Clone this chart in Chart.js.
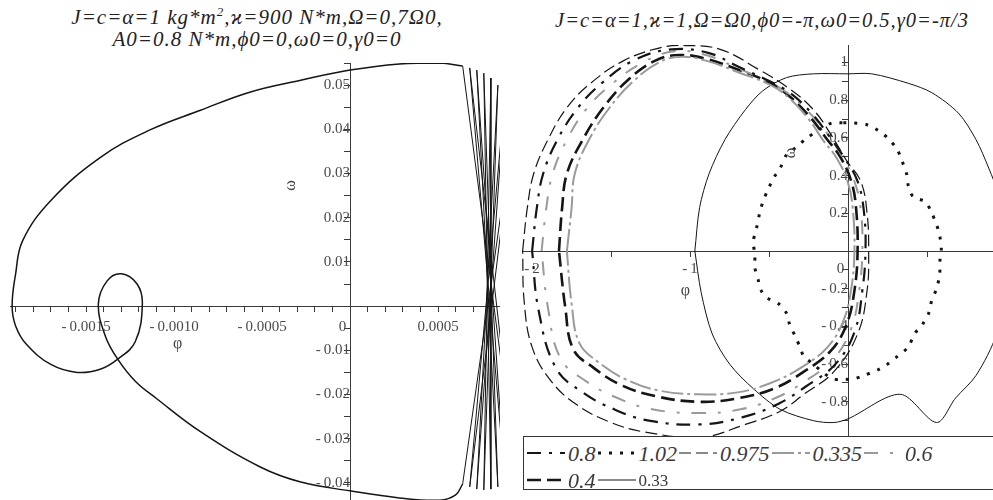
<!DOCTYPE html>
<html>
<head>
<meta charset="utf-8">
<script src="https://cdn.jsdelivr.net/npm/chart.js@4"></script>
<style>
  html, body { margin: 0; padding: 0; background: #fff; }
  body { width: 993px; height: 500px; position: relative; overflow: hidden; font-family: 'Liberation Serif', 'Times New Roman', serif; }
  canvas { position: absolute; top: 0; }
  #leftPlot { left: 0; }
  #rightPlot { left: 500px; }
  .title { position: absolute; font-style: italic; line-height: 22px; color: #222; white-space: nowrap; text-align: center; transform: translateX(-50%); letter-spacing: 1px; }
  .title sup { font-size: 13px; line-height: 0; }
  #legend { position: absolute; left: 523px; top: 436px; width: 520px; height: 54px; border: 1px solid #333; background: #fff; padding: 2px 0 0 3px; box-sizing: border-box; line-height: 25px; white-space: nowrap; }
  #legend .item { display: inline-block; margin-right: 2px; }
  #legend svg { vertical-align: middle; }
  #legend .lab { font-style: italic; font-size: 22px; color: #3a3a3a; margin-left: 3px; vertical-align: middle; }
  #legend .lab.plain { font-style: normal; font-size: 17px; }
</style>
</head>
<body>
<div class="title" style="left:257px; top:6px; font-size:21px;">J=c=α=1 kg*m<sup>2</sup>,ϰ=900 N*m,Ω=0,7Ω0,<br>A0=0.8 N*m,ϕ0=0,ω0=0,γ0=0</div>
<div class="title" style="left:762px; top:9px; font-size:20.5px;">J=c=α=1,ϰ=1,Ω=Ω0,ϕ0=-π,ω0=0.5,γ0=-π/3</div>
<canvas id="leftPlot" width="500" height="515"></canvas>
<canvas id="rightPlot" width="499" height="500"></canvas>
<div id="legend"></div>
<script>
const lineBlack = '#151515';
const lineGray = '#9a9a9a';

// ---- left portrait: phi vs omega, forced case ----
// smooth part of the trajectory
const leftTrack = [
  [0.00064, 0.0543], [0.00051, 0.0550], [0.00028, 0.0548], [0, 0.0534],
  [-0.00028, 0.0511], [-0.00057, 0.0484], [-0.00085, 0.0443], [-0.00114, 0.0398],
  [-0.00142, 0.0336], [-0.00170, 0.0239], [-0.00186, 0.0148], [-0.00190, 0.0073],
  [-0.00192, 0], [-0.00190, -0.0045], [-0.00184, -0.0086], [-0.00170, -0.0132],
  [-0.00155, -0.0150], [-0.00142, -0.0143], [-0.00132, -0.0120], [-0.00122, -0.0080],
  [-0.00118, 0.0005], [-0.00121, 0.0050], [-0.00130, 0.0073], [-0.00138, 0.0057],
  [-0.00143, 0.0005], [-0.00139, -0.0068], [-0.00132, -0.0120], [-0.00122, -0.0170],
  [-0.00110, -0.0209], [-0.00085, -0.0284], [-0.00051, -0.0364], [-0.00028, -0.0398],
  [0, -0.0418], [0.00028, -0.0434], [0.00051, -0.0439], [0.00060, -0.0427], [0.00064, -0.0402]
];
// fast oscillation near phi = 0.0008 (coarse sampling -> straight strokes)
const leftFan = [
  [0.00064, -0.0402], [0.00094, 0.0443], [0.00068, -0.0409], [0.00088, 0.0477],
  [0.00072, -0.0414], [0.00084, 0.0500], [0.00076, -0.0416], [0.00080, 0.0516],
  [0.00080, -0.0414], [0.00076, 0.0527], [0.00084, -0.0409], [0.00072, 0.0534],
  [0.00088, -0.0398], [0.00068, 0.0539], [0.00094, -0.0375], [0.00064, 0.0543]
];

// ---- right portrait: one orbit per parameter value ----
const legendLabels = ['0.8', '1.02', '0.975', '0.335', '0.6', '0.4', '0.33'];
const orbit08 = [
  [-2.00, 0], [-1.97, 0.23], [-1.93, 0.41], [-1.84, 0.59], [-1.71, 0.76], [-1.56, 0.89],
  [-1.36, 1.01], [-1.12, 1.07], [-0.88, 1.05], [-0.70, 0.98], [-0.52, 0.91], [-0.37, 0.84],
  [-0.23, 0.73], [-0.12, 0.61], [-0.02, 0.49], [0.06, 0.37], [0.10, 0.21], [0.11, 0],
  [0.09, -0.21], [0.04, -0.43], [-0.08, -0.60], [-0.27, -0.72], [-0.44, -0.81], [-0.66, -0.88],
  [-0.94, -0.92], [-1.26, -0.90], [-1.48, -0.84], [-1.68, -0.75], [-1.85, -0.62], [-1.96, -0.31],
  [-2.00, 0]
];
const orbit102 = [
  [-0.03, 0.68], [0.03, 0.68], [0.12, 0.67], [0.19, 0.64], [0.25, 0.60], [0.31, 0.54],
  [0.34, 0.48], [0.37, 0.41], [0.38, 0.35], [0.41, 0.29], [0.49, 0.26], [0.53, 0.20],
  [0.56, 0.14], [0.58, 0.08], [0.59, 0.01], [0.58, -0.06], [0.58, -0.12], [0.56, -0.20],
  [0.53, -0.26], [0.51, -0.33], [0.47, -0.39], [0.42, -0.44], [0.38, -0.51], [0.31, -0.56],
  [0.25, -0.60], [0.19, -0.63], [0.10, -0.66], [0.03, -0.68], [-0.04, -0.68], [-0.09, -0.68],
  [-0.15, -0.65], [-0.22, -0.60], [-0.28, -0.56], [-0.30, -0.52], [-0.33, -0.46], [-0.37, -0.39],
  [-0.39, -0.33], [-0.44, -0.28], [-0.51, -0.25], [-0.55, -0.21], [-0.57, -0.15], [-0.59, -0.09],
  [-0.59, -0.02], [-0.60, 0.05], [-0.58, 0.12], [-0.56, 0.20], [-0.54, 0.26], [-0.51, 0.32],
  [-0.47, 0.39], [-0.43, 0.44], [-0.39, 0.51], [-0.33, 0.55], [-0.26, 0.60], [-0.17, 0.65],
  [-0.10, 0.68], [-0.03, 0.68]
];
const orbit0975 = [
  [-2.06, 0], [-2.03, 0.23], [-1.99, 0.41], [-1.90, 0.59], [-1.78, 0.76], [-1.63, 0.89],
  [-1.42, 1.01], [-1.18, 1.08], [-1.03, 1.09], [-0.81, 1.07], [-0.56, 0.96], [-0.37, 0.86],
  [-0.22, 0.75], [-0.11, 0.62], [-0.01, 0.48], [0.08, 0.37], [0.12, 0.20], [0.13, 0],
  [0.12, -0.21], [0.06, -0.44], [-0.09, -0.64], [-0.28, -0.76], [-0.43, -0.85], [-0.65, -0.92],
  [-0.94, -0.99], [-1.29, -0.96], [-1.50, -0.91], [-1.71, -0.82], [-1.88, -0.69], [-2.00, -0.51],
  [-2.05, -0.27], [-2.06, 0]
];
const orbit0335 = [
  [-1.78, 0], [-1.75, 0.23], [-1.73, 0.41], [-1.64, 0.59], [-1.51, 0.76], [-1.36, 0.90],
  [-1.20, 1.00], [-1.06, 1.03], [-0.90, 1.01], [-0.70, 0.95], [-0.49, 0.88], [-0.37, 0.81],
  [-0.25, 0.70], [-0.16, 0.59], [-0.07, 0.49], [0.00, 0.36], [0.03, 0.22], [0.04, 0],
  [0.02, -0.20], [-0.03, -0.37], [-0.13, -0.51], [-0.30, -0.62], [-0.49, -0.70], [-0.70, -0.75],
  [-0.94, -0.76], [-1.20, -0.74], [-1.41, -0.68], [-1.58, -0.59], [-1.70, -0.49], [-1.75, -0.28],
  [-1.78, 0]
];
const orbit06 = [
  [-1.94, 0], [-1.91, 0.23], [-1.87, 0.41], [-1.78, 0.59], [-1.65, 0.76], [-1.49, 0.89],
  [-1.30, 1.00], [-1.10, 1.06], [-0.90, 1.04], [-0.70, 0.97], [-0.51, 0.90], [-0.37, 0.83],
  [-0.23, 0.72], [-0.12, 0.61], [-0.03, 0.49], [0.04, 0.37], [0.08, 0.22], [0.09, 0],
  [0.07, -0.21], [0.02, -0.41], [-0.09, -0.57], [-0.27, -0.69], [-0.46, -0.78], [-0.68, -0.84],
  [-0.94, -0.86], [-1.24, -0.84], [-1.46, -0.78], [-1.66, -0.69], [-1.82, -0.57], [-1.90, -0.30],
  [-1.94, 0]
];
const orbit04 = [
  [-1.83, 0], [-1.81, 0.23], [-1.78, 0.41], [-1.68, 0.59], [-1.55, 0.76], [-1.39, 0.91],
  [-1.22, 1.01], [-1.07, 1.04], [-0.90, 1.02], [-0.69, 0.96], [-0.49, 0.89], [-0.37, 0.82],
  [-0.24, 0.71], [-0.14, 0.60], [-0.05, 0.50], [0.02, 0.37], [0.05, 0.23], [0.06, 0],
  [0.04, -0.21], [-0.01, -0.39], [-0.11, -0.53], [-0.28, -0.64], [-0.47, -0.73], [-0.69, -0.78],
  [-0.94, -0.80], [-1.22, -0.77], [-1.44, -0.71], [-1.61, -0.62], [-1.74, -0.52], [-1.79, -0.30],
  [-1.83, 0]
];
const orbit033 = [
  [-0.97, 0], [-0.94, 0.23], [-0.88, 0.41], [-0.78, 0.59], [-0.65, 0.75], [-0.54, 0.85],
  [-0.39, 0.92], [-0.22, 0.94], [0, 0.94], [0.15, 0.94], [0.38, 0.89], [0.53, 0.84],
  [0.70, 0.73], [0.81, 0.59], [0.89, 0.44], [0.95, 0.30], [0.99, 0.05], [0.98, -0.22],
  [0.94, -0.44], [0.81, -0.66], [0.68, -0.78], [0.56, -0.91], [0.33, -0.76], [0, -0.89],
  [-0.09, -0.91], [-0.22, -0.90], [-0.43, -0.84], [-0.60, -0.73], [-0.75, -0.60], [-0.86, -0.44],
  [-0.93, -0.22], [-0.97, 0]
];

const toXY = pts => pts.map(([x, y]) => ({ x, y }));
const isMultiple = (v, m) => Math.abs(v / m - Math.round(v / m)) < 1e-6;
const signed = (v, digits) => (v < 0 ? '-\u2009' : '') + Math.abs(v).toFixed(digits);

// axes crossing at the origin, Maple style
function crossAxis(other, min, max, step, labelStep, fmt, zeroLabel, tickLen, pad) {
  return {
    type: 'linear', min, max,
    position: { [other]: 0 },
    border: { color: '#3a3a3a', width: 1 },
    grid: { drawOnChartArea: false, drawTicks: true, tickLength: tickLen, tickColor: '#3a3a3a' },
    ticks: {
      stepSize: step, autoSkip: false, maxRotation: 0, minRotation: 0, includeBounds: false,
      color: '#4a4a4a', font: { family: 'Liberation Serif', size: 15 }, padding: pad,
      callback: v => {
        if (Math.abs(v) < step / 2) return zeroLabel;
        return isMultiple(v, labelStep) ? fmt(v) : '';
      }
    }
  };
}

const axisNames = {
  id: 'axisNames',
  afterDraw(chart, args, opts) {
    const { ctx, scales: { x, y } } = chart;
    ctx.save();
    ctx.font = '16px "Liberation Serif"';
    ctx.fillStyle = '#444';
    ctx.textAlign = 'center';
    ctx.textBaseline = 'middle';
    ctx.fillText('φ', x.getPixelForValue(opts.phiAt[0]), y.getPixelForValue(opts.phiAt[1]));
    ctx.translate(x.getPixelForValue(opts.omegaAt[0]), y.getPixelForValue(opts.omegaAt[1]));
    ctx.rotate(-Math.PI / 2);
    ctx.fillText('ω', 0, 0);
    ctx.restore();
  }
};

const common = {
  responsive: false,
  animation: false,
  events: [],
  elements: { point: { radius: 0 } }
};

new Chart(document.getElementById('leftPlot'), {
  type: 'scatter',
  data: {
    datasets: [
      { data: toXY(leftTrack), showLine: true, borderColor: lineBlack, borderWidth: 1.5, tension: 0.4 },
      { data: toXY(leftFan), showLine: true, borderColor: lineBlack, borderWidth: 1, tension: 0 }
    ]
  },
  options: {
    ...common,
    layout: { padding: { left: 10, right: 0, top: 63, bottom: 0 } },
    scales: {
      x: crossAxis('y', -0.001932, 0.000852, 0.0001, 0.0005, v => signed(v, 4), '0\u2003', 5, 7),
      y: crossAxis('x', -0.04432, 0.055, 0.005, 0.01, v => signed(v, 2), '', 6, 4)
    },
    plugins: {
      legend: { display: false },
      tooltip: { enabled: false },
      axisNames: { phiAt: [-0.00098, -0.0086], omegaAt: [-0.000335, 0.0273] }
    }
  },
  plugins: [axisNames]
});

const rightSeries = [
  { data: orbit08, color: lineBlack, width: 2.2, dash: [14, 8, 3, 8], tension: 0.4 },
  { data: orbit102, color: lineBlack, width: 3, dash: [3, 8], tension: 0.3 },
  { data: orbit0975, color: lineBlack, width: 1.2, dash: [12, 5], tension: 0.4 },
  { data: orbit0335, color: lineGray, width: 2, dash: [22, 4, 3, 4], tension: 0.4 },
  { data: orbit06, color: lineGray, width: 2, dash: [14, 12, 3, 12], tension: 0.4 },
  { data: orbit04, color: lineBlack, width: 2.6, dash: [14, 6], tension: 0.4 },
  { data: orbit033, color: lineBlack, width: 1, dash: [], tension: 0.3 }
];

new Chart(document.getElementById('rightPlot'), {
  type: 'scatter',
  data: {
    datasets: rightSeries.map((s, i) => ({
      label: legendLabels[i],
      data: toXY(s.data),
      showLine: true,
      borderColor: s.color,
      borderWidth: s.width,
      borderDash: s.dash,
      tension: s.tension
    }))
  },
  options: {
    ...common,
    layout: { padding: { left: 22, right: 0, top: 45, bottom: 62 } },
    scales: {
      x: crossAxis('y', -2.064, 0.955, 0.5, 1, v => signed(v, 0), '0\u2003', 5, 4),
      y: crossAxis('x', -0.992, 1.093, 0.1, 0.2, v => (v < 0 ? '-\u2009' : '') + parseFloat(Math.abs(v).toFixed(1)), '', 6, 5)
    },
    plugins: {
      legend: { display: false },
      tooltip: { enabled: false },
      axisNames: { phiAt: [-1.03, -0.213], omegaAt: [-0.36, 0.52] }
    }
  },
  plugins: [axisNames]
});

// legend box under the right portrait
const legendEl = document.getElementById('legend');
rightSeries.forEach((s, i) => {
  if (i === 5) legendEl.appendChild(document.createElement('br'));
  const item = document.createElement('span');
  item.className = 'item';
  item.innerHTML =
    '<svg width="38" height="10"><line x1="0" y1="5" x2="38" y2="5" stroke="' + s.color +
    '" stroke-width="' + s.width + '" stroke-dasharray="' + (s.dash.length ? s.dash.join(' ') : 'none') +
    '"/></svg><span class="lab' + (i === 6 ? ' plain' : '') + '">' + legendLabels[i] + '</span>';
  legendEl.appendChild(item);
});
</script>
</body>
</html>
